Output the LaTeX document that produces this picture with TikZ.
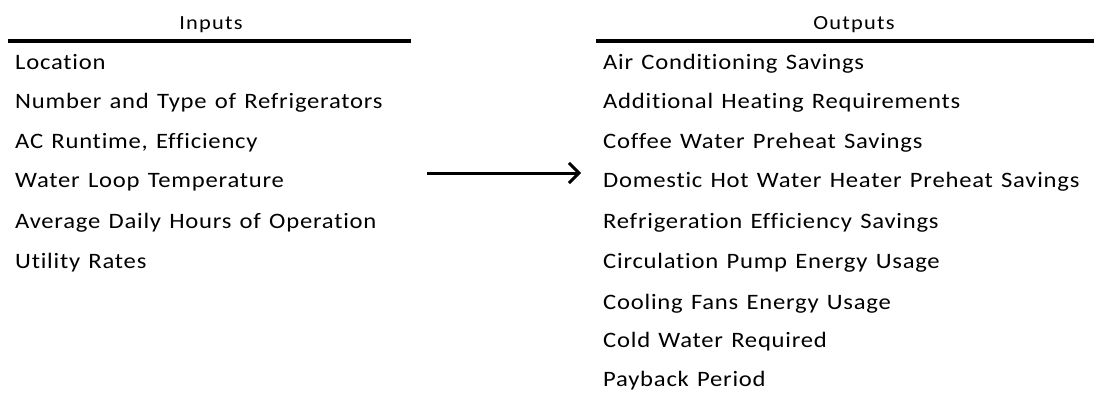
\documentclass[tikz,border=0pt]{standalone}
\usepackage{fontspec}
\setmainfont{Carlito}[Ligatures=NoCommon]
\newfontfamily\itemfont{Carlito}[FakeStretch=1.12,LetterSpace=3.5,WordSpace=1.3,Ligatures=NoCommon]
\newfontfamily\headfont{Carlito}[FakeStretch=1.12,LetterSpace=6,Ligatures=NoCommon]
\usetikzlibrary{arrows.meta}
\begin{document}
\begin{tikzpicture}[x=1pt,y=-1pt,
  item/.style={anchor=base west,inner sep=0pt,font=\itemfont\fontsize{22}{26}\selectfont},
  head/.style={anchor=base,inner sep=0pt,font=\headfont\fontsize{20}{24}\selectfont},
  rule/.style={line width=4pt},
  flow/.style={line width=3pt,-{Straight Barb[length=10pt,width=20pt,line width=3pt]}}]
\useasboundingbox (0,0) rectangle (1094,402);
\node[head] (hin) at (211,29) {Inputs};
\node[head] (hout) at (854,29) {Outputs};
\coordinate (l1) at (8,41); \coordinate (l2) at (411,41);
\coordinate (r1) at (596,41); \coordinate (r2) at (1094,41);
\draw[rule] (l1) -- (l2);
\draw[rule] (r1) -- (r2);
\node[item] (i1) at (15,69) {Location};
\node[item] (i2) at (15,108) {Number and Type of Refrigerators};
\node[item] (i3) at (15,148) {AC Runtime, Efficiency};
\node[item] (i4) at (15,187) {Water Loop Temperature};
\node[item] (i5) at (15,228) {Average Daily Hours of Operation};
\node[item] (i6) at (15,268) {Utility Rates};
\node[item] (o1) at (603,69) {Air Conditioning Savings};
\node[item] (o2) at (603,108) {Additional Heating Requirements};
\node[item] (o3) at (603,148) {Coffee Water Preheat Savings};
\node[item] (o4) at (603,187) {Domestic Hot Water Heater Preheat Savings};
\node[item] (o5) at (603,228) {Refrigeration Efficiency Savings};
\node[item] (o6) at (603,268) {Circulation Pump Energy Usage};
\node[item] (o7) at (603,309) {Cooling Fans Energy Usage};
\node[item] (o8) at (603,347) {Cold Water Required};
\node[item] (o9) at (603,386) {Payback Period};
\coordinate (a1) at (427,173); \coordinate (a2) at (581,173);
\draw[flow] (a1) -- (a2);
\end{tikzpicture}
\end{document}
